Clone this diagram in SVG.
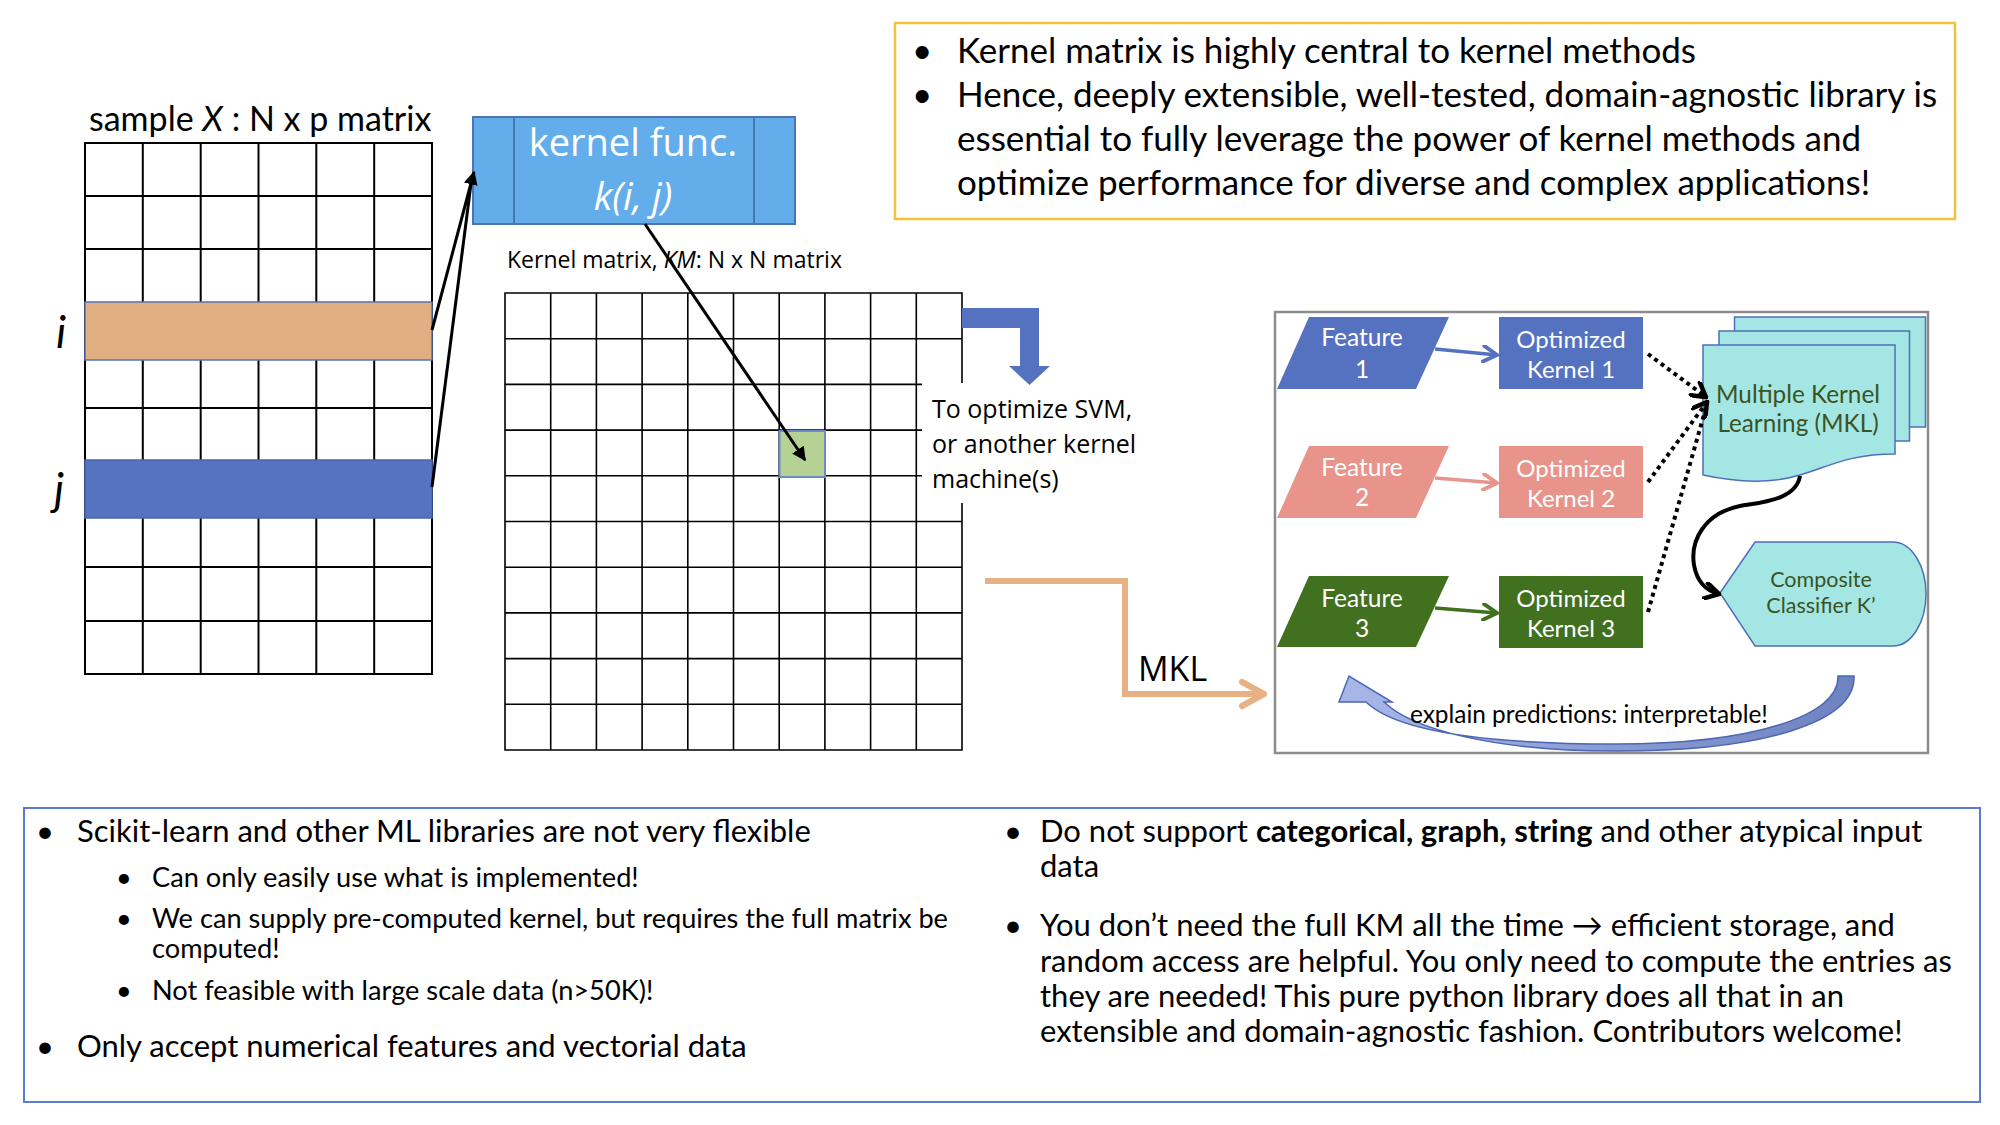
<svg xmlns="http://www.w3.org/2000/svg" width="2000" height="1125" viewBox="0 0 2000 1125">
<style>
.cal{font-family:Lato,"Liberation Sans",sans-serif}
.seg{font-family:"Open Sans","Liberation Sans",sans-serif}
.grid{stroke:#000;stroke-width:2;fill:none}
.kgrid{stroke:#000;stroke-width:1.6;fill:none}
.wt{fill:#fff}
.olive{fill:#3B5323}
.dot{stroke:#000;stroke-width:4;stroke-dasharray:4 4;fill:none}
</style>
<defs>
<marker id="tri" viewBox="0 0 10 10" refX="9" refY="5" markerWidth="14" markerHeight="14" markerUnits="userSpaceOnUse" orient="auto"><path d="M0,0 L10,5 L0,10 z" fill="#000"/></marker>
<marker id="chevBlue" viewBox="0 0 16 16" refX="14" refY="8" markerWidth="18" markerHeight="18" markerUnits="userSpaceOnUse" orient="auto"><path d="M2,1 L14,8 L2,15" fill="none" stroke="#5572C0" stroke-width="3.5" stroke-linecap="round"/></marker>
<marker id="chevSalmon" viewBox="0 0 16 16" refX="14" refY="8" markerWidth="18" markerHeight="18" markerUnits="userSpaceOnUse" orient="auto"><path d="M2,1 L14,8 L2,15" fill="none" stroke="#E8948A" stroke-width="3.5" stroke-linecap="round"/></marker>
<marker id="chevGreen" viewBox="0 0 16 16" refX="14" refY="8" markerWidth="18" markerHeight="18" markerUnits="userSpaceOnUse" orient="auto"><path d="M2,1 L14,8 L2,15" fill="none" stroke="#41701E" stroke-width="3.5" stroke-linecap="round"/></marker>
<marker id="chevBlack" viewBox="0 0 16 16" refX="14" refY="8" markerWidth="18" markerHeight="18" markerUnits="userSpaceOnUse" orient="auto"><path d="M2,1 L14,8 L2,15" fill="none" stroke="#000" stroke-width="4" stroke-linecap="round"/></marker>
<linearGradient id="bandGrad" x1="0" y1="0" x2="1" y2="0"><stop offset="0" stop-color="#A7B8E8"/><stop offset="1" stop-color="#6F82C0"/></linearGradient>
</defs>
<rect x="0" y="0" width="2000" height="1125" fill="#fff"/>

<g id="sample-matrix">
<text class="cal" x="89" y="131" font-size="34">sample <tspan font-style="italic">X</tspan> : N x p matrix</text>
<path class="grid" d="M85,143 H432 V674 H85 Z M142.8,143 V302 M200.7,143 V302 M258.5,143 V302 M316.3,143 V302 M374.2,143 V302 M142.8,360 V460 M200.7,360 V460 M258.5,360 V460 M316.3,360 V460 M374.2,360 V460 M142.8,518 V674 M200.7,518 V674 M258.5,518 V674 M316.3,518 V674 M374.2,518 V674 M85,196 H432 M85,249 H432 M85,408 H432 M85,567 H432 M85,621 H432"/>
<rect x="85" y="302" width="347" height="58" fill="#E2AF83" stroke="#5571B8" stroke-width="1.5"/>
<rect x="85" y="460" width="347" height="58" fill="#5673C1" stroke="#4A66AE" stroke-width="1.5"/>
<text class="cal" x="56" y="348" font-size="44" font-style="italic">i</text>
<text class="cal" x="54" y="505" font-size="44" font-style="italic">j</text>
</g>

<g id="kernel-func">
<rect x="473" y="117" width="322" height="107" fill="#63ADEB" stroke="#4E73B5" stroke-width="2"/>
<line x1="514" y1="117" x2="514" y2="224" stroke="#4E73B5" stroke-width="2"/>
<line x1="754" y1="117" x2="754" y2="224" stroke="#4E73B5" stroke-width="2"/>
<text class="seg wt" x="633" y="156" font-size="38" text-anchor="middle">kernel func.</text>
<text class="seg wt" x="633" y="210" font-size="38" text-anchor="middle" font-style="italic">k(i, j)</text>
</g>

<g id="kernel-matrix">
<text class="seg" x="507" y="268" font-size="23">Kernel matrix, <tspan font-style="italic">KM</tspan>: N x N matrix</text>
<path class="kgrid" d="M505,293 H962 V750 H505 Z M550.7,293 V750 M596.4,293 V750 M642.1,293 V750 M687.8,293 V750 M733.5,293 V750 M779.2,293 V750 M824.9,293 V750 M870.6,293 V750 M916.3,293 V750 M505,338.7 H962 M505,384.4 H962 M505,430.1 H962 M505,475.8 H962 M505,521.5 H962 M505,567.2 H962 M505,612.9 H962 M505,658.6 H962 M505,704.3 H962"/>
<rect x="779.5" y="431" width="45.5" height="46" fill="#B5D194" stroke="#6B8ACB" stroke-width="2"/>
</g>

<g id="svm-note">
<rect x="922" y="383" width="230" height="120" fill="#fff"/>
<text class="seg" font-size="25"><tspan x="932" y="418">To optimize SVM,</tspan><tspan x="932" y="453">or another kernel</tspan><tspan x="932" y="488">machine(s)</tspan></text>
</g>

<g id="top-note">
<rect x="895" y="23" width="1060" height="196" fill="none" stroke="#F3C13A" stroke-width="2.5"/>
<g class="cal" font-size="35">
<text x="912" y="63">•</text>
<text x="957" y="63">Kernel matrix is highly central to kernel methods</text>
<text x="912" y="107">•</text>
<text x="957" y="107">Hence, deeply extensible, well-tested, domain-agnostic library is</text>
<text x="957" y="151">essential to fully leverage the power of kernel methods and</text>
<text x="957" y="195">optimize performance for diverse and complex applications!</text>
</g>
</g>

<g id="mkl-panel">
<rect x="1275" y="312" width="653" height="441" fill="#fff" stroke="#8C8C8C" stroke-width="2.5"/>
</g>
<g id="feature-1">
<polygon points="1277,389 1309,317 1449,317 1416,389" fill="#5572C0"/>
<text class="cal wt" font-size="24.5" text-anchor="middle"><tspan x="1362" y="346">Feature</tspan><tspan x="1362" y="378">1</tspan></text>
</g>
<g id="feature-2">
<polygon points="1277,518 1309,446 1449,446 1416,518" fill="#E8948A"/>
<text class="cal wt" font-size="24.5" text-anchor="middle"><tspan x="1362" y="476">Feature</tspan><tspan x="1362" y="506">2</tspan></text>
</g>
<g id="feature-3">
<polygon points="1277,647 1309,576 1449,576 1416,647" fill="#41701E"/>
<text class="cal wt" font-size="24.5" text-anchor="middle"><tspan x="1362" y="607">Feature</tspan><tspan x="1362" y="637">3</tspan></text>
</g>
<g id="kernel-1">
<rect x="1499" y="317" width="144" height="72" fill="#5572C0"/>
<text class="cal wt" font-size="24" text-anchor="middle"><tspan x="1571" y="348">Optimized</tspan><tspan x="1571" y="378">Kernel 1</tspan></text>
</g>
<g id="kernel-2">
<rect x="1499" y="446" width="144" height="72" fill="#E8948A"/>
<text class="cal wt" font-size="24" text-anchor="middle"><tspan x="1571" y="477">Optimized</tspan><tspan x="1571" y="507">Kernel 2</tspan></text>
</g>
<g id="kernel-3">
<rect x="1499" y="576" width="144" height="72" fill="#41701E"/>
<text class="cal wt" font-size="24" text-anchor="middle"><tspan x="1571" y="607">Optimized</tspan><tspan x="1571" y="637">Kernel 3</tspan></text>
</g>
<g id="mkl">
<rect x="1734.5" y="317" width="191" height="110" fill="#A3E6E3" stroke="#4F6FB8" stroke-width="1.5"/>
<rect x="1719" y="331" width="190.5" height="110" fill="#A3E6E3" stroke="#4F6FB8" stroke-width="1.5"/>
<path d="M1703,345 H1895 V454 C1850,454 1830,466 1800,475 C1770,484 1735,482 1703,475 Z" fill="#A3E6E3" stroke="#4F6FB8" stroke-width="1.5"/>
<text class="cal olive" font-size="24.3" text-anchor="middle"><tspan x="1798" y="403">Multiple Kernel</tspan><tspan x="1798" y="432">Learning (MKL)</tspan></text>
</g>
<g id="composite">
<path d="M1720,593 L1755,542 H1893 A33,52 0 0 1 1893,646 H1755 Z" fill="#A3E6E3" stroke="#4F6FB8" stroke-width="1.5"/>
<text class="cal olive" font-size="21.5" text-anchor="middle"><tspan x="1821" y="587">Composite</tspan><tspan x="1821" y="613">Classifier K’</tspan></text>
</g>

<g id="connectors">
<line x1="432" y1="330" x2="474" y2="172" stroke="#000" stroke-width="3" marker-end="url(#tri)"/>
<line x1="432" y1="487" x2="472" y2="176" stroke="#000" stroke-width="3"/>
<line x1="645" y1="224" x2="805" y2="460" stroke="#000" stroke-width="3" marker-end="url(#tri)"/>
<polygon points="962,308 1039,308 1039,366 1050,366 1029.5,385 1009,366 1020,366 1020,328 962,328" fill="#5572C0"/>
<path d="M985,581 H1125 V694 H1262" fill="none" stroke="#E8B184" stroke-width="6"/>
<path d="M1242,682 L1264,694 L1242,706" fill="none" stroke="#E8B184" stroke-width="6" stroke-linecap="round" stroke-linejoin="round"/>
<line x1="1435" y1="349" x2="1497" y2="355" stroke="#5572C0" stroke-width="3.5" marker-end="url(#chevBlue)"/>
<line x1="1435" y1="478" x2="1497" y2="483" stroke="#E8948A" stroke-width="3.5" marker-end="url(#chevSalmon)"/>
<line x1="1435" y1="608" x2="1497" y2="613" stroke="#41701E" stroke-width="3.5" marker-end="url(#chevGreen)"/>
<line class="dot" x1="1648" y1="354" x2="1706" y2="397" marker-end="url(#chevBlack)"/>
<line class="dot" x1="1648" y1="482" x2="1707" y2="402" marker-end="url(#chevBlack)"/>
<line class="dot" x1="1648" y1="612" x2="1707" y2="404"/>
<path d="M1800,476 C1796,500 1762,502 1740,506 C1705,513 1690,540 1694,565 C1697,582 1707,591 1719,594" fill="none" stroke="#000" stroke-width="4" marker-end="url(#chevBlack)"/>
<path d="M1838,676 L1854,676 C1856,722 1765,751 1616,751 C1492,751 1412,729 1384,702 L1392,702 L1349,676 L1339,702 L1366,702 C1398,733 1490,744 1616,744 C1752,744 1840,716 1838,676 Z" fill="url(#bandGrad)" stroke="#4A66B5" stroke-width="1.5"/>
<text class="cal" x="1410" y="723" font-size="24.4">explain predictions: interpretable!</text>
<text class="seg" x="1138" y="681" font-size="34">MKL</text>
</g>

<g id="bottom-note">
<rect x="24" y="808" width="1956" height="294" fill="none" stroke="#5B7BD0" stroke-width="2"/>
<g class="cal" font-size="31">
<text x="36" y="842">•</text>
<text x="77" y="842">Scikit-learn and other ML libraries are not very flexible</text>
<text x="36" y="1057">•</text>
<text x="77" y="1057">Only accept numerical features and vectorial data</text>
</g>
<g class="cal" font-size="27.2">
<text x="116" y="887">•</text>
<text x="152" y="887">Can only easily use what is implemented!</text>
<text x="116" y="928">•</text>
<text x="152" y="928">We can supply pre-computed kernel, but requires the full matrix be</text>
<text x="152" y="958">computed!</text>
<text x="116" y="1000">•</text>
<text x="152" y="1000">Not feasible with large scale data (n&gt;50K)!</text>
</g>
<g class="cal" font-size="31">
<text x="1004" y="842">•</text>
<text x="1040" y="842">Do not support <tspan font-weight="bold">categorical, graph, string</tspan> and other atypical input</text>
<text x="1040" y="877">data</text>
<text x="1004" y="936">•</text>
<text x="1040" y="936">You don’t need the full KM all the time → efficient storage, and</text>
<text x="1040" y="972">random access are helpful. You only need to compute the entries as</text>
<text x="1040" y="1007">they are needed! This pure python library does all that in an</text>
<text x="1040" y="1042">extensible and domain-agnostic fashion. Contributors welcome!</text>
</g>
</g>
</svg>
